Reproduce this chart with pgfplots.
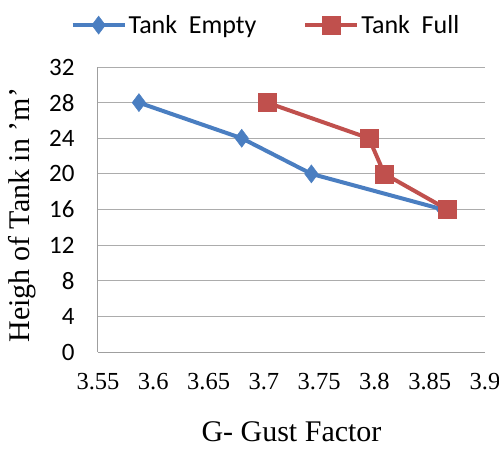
\documentclass[border=0pt]{standalone}
\usepackage{pgfplots}
\pgfplotsset{compat=1.18}
\usepackage{fontspec}
\setmainfont{Liberation Serif}
\newfontfamily\calfont{Carlito}
\definecolor{xlblue}{RGB}{74,126,193}
\definecolor{xlred}{RGB}{192,80,77}
\begin{document}
\begin{tikzpicture}
\useasboundingbox (-98bp,-110bp) rectangle (401bp,352bp);
\begin{axis}[
    scale only axis,
    width=387bp, height=285bp,
    xmin=3.55, xmax=3.9,
    ymin=0, ymax=32,
    xtick={3.55,3.6,3.65,3.7,3.75,3.8,3.85,3.9},
    xticklabels={3.55,3.6,3.65,3.7,3.75,3.8,3.85,3.9},
    ytick={0,4,8,12,16,20,24,28,32},
    axis x line=bottom, axis y line=left,
    axis line style={-, draw=gray!75, line width=1bp},
    major tick length=0pt,
    ymajorgrids,
    grid style={draw=gray!65, line width=1bp},
    xticklabel style={font=\rmfamily\fontsize{24.5bp}{26bp}\selectfont, yshift=-18bp},
    yticklabel style={font=\calfont\fontsize{25bp}{27bp}\selectfont, xshift=-20bp},
    /pgf/number format/assume math mode=true,
    xlabel={G- Gust Factor},
    ylabel={Heigh of Tank in 'm'},
    xlabel style={font=\rmfamily\fontsize{30bp}{32bp}\selectfont, at={(axis description cs:0.5,-0.281)}, anchor=center},
    ylabel style={font=\rmfamily\fontsize{30bp}{32bp}\selectfont, at={(axis description cs:-0.195,0.48)}, anchor=center},
    legend columns=2,
    legend style={draw=none, fill=none, font=\calfont\fontsize{26bp}{28bp}\selectfont,
        at={(axis description cs:0.434,1.147)}, anchor=center,
        /tikz/every even column/.append style={column sep=45bp}},
    legend image code/.code={\draw[mark repeat=2,mark phase=2] plot coordinates {(0bp,0bp)(26bp,0bp)(52bp,0bp)};},
]
\addplot[color=xlblue, line width=4bp, mark=diamond*, mark size=9bp,
    mark options={solid, line width=0.5bp, fill=xlblue}]
    coordinates {(3.587,28) (3.680,24) (3.743,20) (3.862,16)};
\addlegendentry{Tank\ \ Empty}
\addplot[color=xlred, line width=4bp, mark=square*, mark size=9bp,
    mark options={solid, line width=0.5bp, fill=xlred}]
    coordinates {(3.703,28) (3.795,24) (3.809,20) (3.866,16)};
\addlegendentry{Tank\ \ Full}
\end{axis}
\end{tikzpicture}
\end{document}
